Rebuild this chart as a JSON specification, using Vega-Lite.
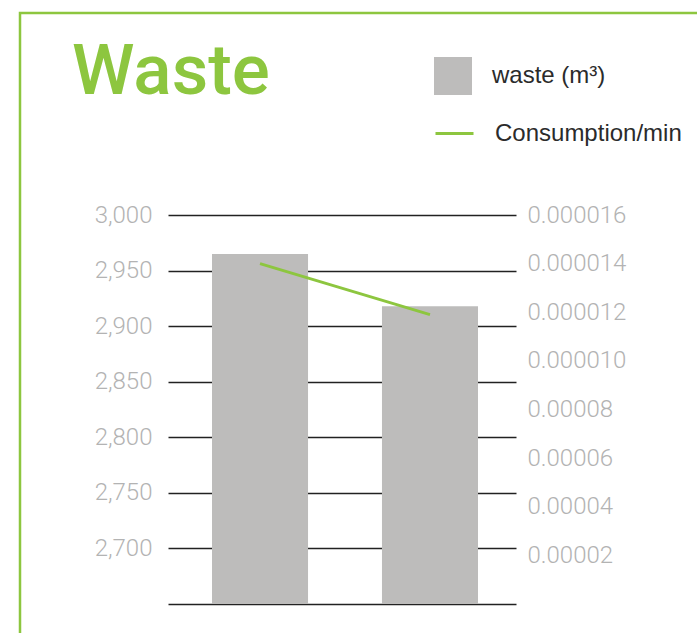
{
  "$schema": "https://vega.github.io/schema/vega-lite/v6.json",
  "width": 681,
  "height": 624,
  "autosize": {"type": "none"},
  "padding": {"left": 20, "top": 13, "right": 0, "bottom": 0},
  "background": "white",
  "title": {
    "text": "Waste",
    "anchor": "start",
    "frame": "group",
    "font": "Roboto",
    "fontWeight": 500,
    "fontSize": 71,
    "color": "#8dc63f",
    "offset": -96,
    "dx": 52
  },
  "data": {
    "values": [
      {"period": "2013", "waste": 2965, "consumption": 0.000014},
      {"period": "2014", "waste": 2918, "consumption": 0.0000119}
    ]
  },
  "encoding": {
    "x": {
      "field": "period",
      "type": "nominal",
      "axis": null,
      "scale": {"range": [192, 458], "paddingInner": 0.435, "paddingOuter": 0}
    }
  },
  "layer": [
    {
      "mark": {"type": "bar"},
      "encoding": {
        "y": {
          "field": "waste",
          "type": "quantitative",
          "scale": {"domain": [2650, 3000], "range": [591, 202], "zero": false, "nice": false},
          "axis": {
            "orient": "left",
            "offset": -496,
            "values": [2650, 2700, 2750, 2800, 2850, 2900, 2950, 3000],
            "grid": false,
            "domain": false,
            "ticks": true,
            "tickSize": 348,
            "tickColor": "#222222",
            "tickWidth": 1.3,
            "labelExpr": "datum.value == 2650 ? '' : format(datum.value, ',')",
            "labelFont": "Roboto",
            "labelFontWeight": 300,
            "labelFontSize": 24,
            "labelColor": "#b3b3b3",
            "labelPadding": 16,
            "title": null,
            "zindex": 0
          }
        },
        "y2": {"datum": 2650},
        "color": {
          "datum": "waste (m³)",
          "scale": {"range": ["#bdbcbb"]},
          "legend": {
            "orient": "none",
            "legendX": 414,
            "legendY": 44,
            "title": null,
            "padding": 0,
            "symbolType": "square",
            "symbolSize": 1444,
            "symbolStrokeWidth": 0,
            "labelFont": "Liberation Sans",
            "labelFontSize": 24,
            "labelColor": "#2b2b2b",
            "labelOffset": 20,
            "labelLimit": 0
          }
        }
      }
    },
    {
      "mark": {"type": "line", "strokeWidth": 2.8},
      "encoding": {
        "y": {
          "field": "consumption",
          "type": "quantitative",
          "scale": {"domain": [0, 0.000016], "range": [591, 202], "nice": false},
          "axis": {
            "orient": "right",
            "offset": -185,
            "values": [0.000002, 0.000004, 0.000006, 0.000008, 0.00001, 0.000012, 0.000014, 0.000016],
            "grid": false,
            "domain": false,
            "ticks": false,
            "labelExpr": "datum.value >= 0.0000099 ? '0.0000' + format(round(datum.value * 1000000), '02d') : '0.0000' + round(datum.value * 1000000)",
            "labelFont": "Roboto",
            "labelFontWeight": 300,
            "labelFontSize": 24,
            "labelColor": "#b3b3b3",
            "labelPadding": 11,
            "title": null,
            "zindex": 0
          }
        },
        "stroke": {
          "datum": "Consumption/min",
          "scale": {"range": ["#8dc63f"]},
          "legend": {
            "orient": "none",
            "legendX": 414,
            "legendY": 100,
            "title": null,
            "padding": 0,
            "symbolType": "stroke",
            "symbolSize": 1444,
            "symbolStrokeWidth": 3,
            "labelFont": "Liberation Sans",
            "labelFontSize": 24,
            "labelColor": "#2b2b2b",
            "labelOffset": 20,
            "labelLimit": 0
          }
        }
      }
    }
  ],
  "resolve": {"scale": {"y": "independent"}},
  "config": {
    "view": {"stroke": "#8dc63f", "strokeWidth": 2.5}
  }
}
